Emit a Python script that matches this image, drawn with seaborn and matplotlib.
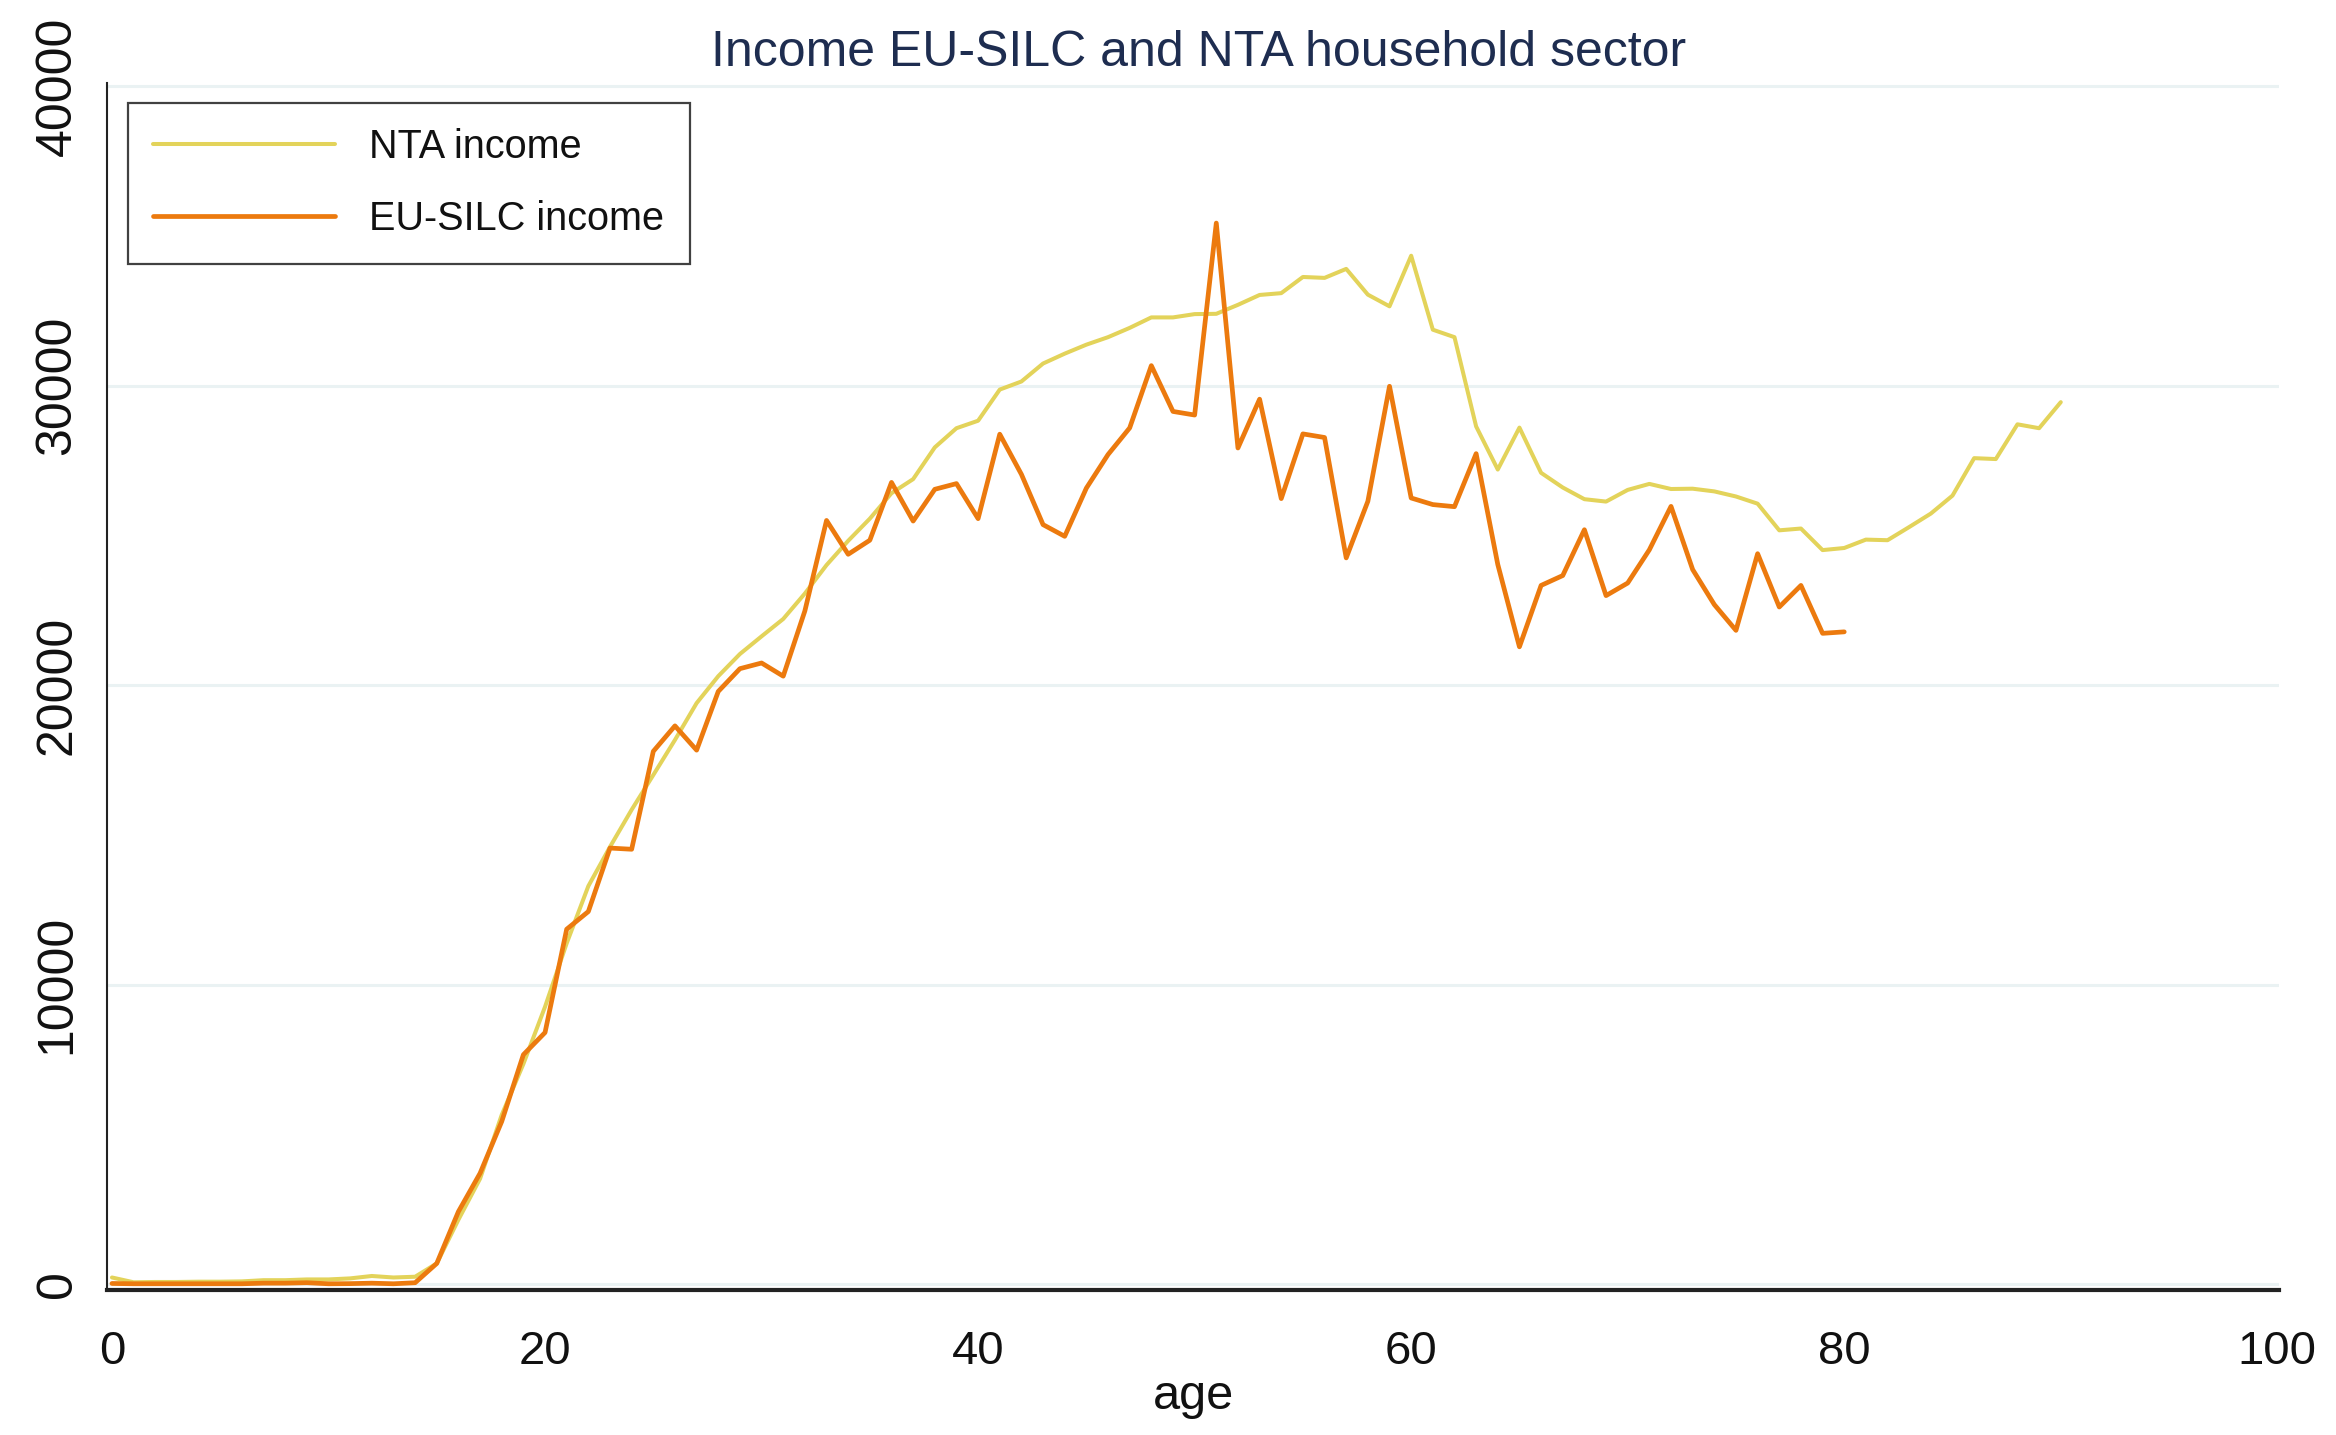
import matplotlib
matplotlib.use("Agg")
import matplotlib.pyplot as plt
import seaborn as sns
import pandas as pd
import numpy as np

# Mean income by single year of age
ages_nta = list(range(0, 91))
nta_income = [
    220, 60, 70, 70, 80, 80, 90, 130, 130, 155,
    155, 190, 270, 220, 245, 690, 2150, 3520, 5650, 7350,
    9260, 11380, 13290, 14600, 15840, 17000, 18170, 19400, 20300, 21040,
    21630, 22210, 23060, 24010, 24820, 25560, 26410, 26880, 27940, 28580,
    28830, 29870, 30140, 30740, 31070, 31370, 31620, 31930, 32280, 32280,
    32390, 32400, 32700, 33030, 33090, 33630, 33600, 33900, 33040, 32650,
    34340, 31870, 31620, 28640, 27200, 28600, 27090, 26600, 26210, 26130,
    26520, 26720, 26550, 26560, 26470, 26300, 26060, 25170, 25230, 24510,
    24580, 24860, 24840, 25280, 25730, 26330, 27580, 27550, 28710, 28580,
    29450,
]

ages_silc = list(range(0, 81))
silc_income = [
    20, 10, 10, 10, 10, 10, 10, 30, 30, 45,
    10, 15, 30, 10, 45, 690, 2420, 3700, 5430, 7660,
    8400, 11850, 12440, 14560, 14520, 17790, 18640, 17830, 19790, 20550,
    20740, 20300, 22480, 25500, 24370, 24840, 26770, 25480, 26540, 26730,
    25560, 28380, 27040, 25360, 24970, 26580, 27700, 28590, 30670, 29140,
    29020, 35430, 27920, 29550, 26230, 28390, 28270, 24250, 26140, 29980,
    26250, 26030, 25960, 27730, 24030, 21280, 23330, 23660, 25190, 22990,
    23410, 24520, 25970, 23860, 22690, 21830, 24390, 22610, 23330, 21730,
    21780,
]

series_names = ["NTA income", "EU-SILC income"]
line_colors = ["#E3D35A", "#EC7A0E"]
line_widths = [2.9, 3.4]
x_ticks = [0, 20, 40, 60, 80, 100]
y_ticks = [0, 10000, 20000, 30000, 40000]

df = pd.concat([
    pd.DataFrame({"age": ages_nta, "income": nta_income, "series": series_names[0]}),
    pd.DataFrame({"age": ages_silc, "income": silc_income, "series": series_names[1]}),
], ignore_index=True)

sns.set_theme(style="white")
plt.rcParams["font.family"] = ["Liberation Sans", "DejaVu Sans"]

fig = plt.figure(figsize=(23.36, 14.35), dpi=100)
ax = fig.add_axes([0.0458, 0.101, 0.930, 0.841])

sns.lineplot(
    data=df, x="age", y="income", hue="series",
    hue_order=series_names, palette=line_colors,
    ax=ax, legend=False, estimator=None, sort=True,
)
for ln, w in zip(ax.lines, line_widths):
    ln.set_linewidth(w)
    ln.set_solid_joinstyle("round")

ax.set_xlim(-0.23, 100.1)
ax.set_ylim(-200, 40100)
ax.set_xticks(x_ticks)
ax.set_yticks(y_ticks)
ax.set_xticklabels([str(t) for t in x_ticks], fontsize=34)
ax.set_yticklabels([str(t) for t in y_ticks], fontsize=36, rotation=90, va="center")

ax.yaxis.grid(True, color="#EAF2F3", linewidth=2.2)
ax.xaxis.grid(False)
ax.set_axisbelow(True)

for side in ["top", "right"]:
    ax.spines[side].set_visible(False)
ax.spines["left"].set_color("#222222")
ax.spines["left"].set_linewidth(1.5)
ax.spines["bottom"].set_color("#222222")
ax.spines["bottom"].set_linewidth(3.0)

ax.tick_params(axis="x", direction="out", length=14, width=1.5, color="#222222",
               pad=15, labelcolor="#111111")
ax.tick_params(axis="y", direction="out", length=9, width=1.5, color="#222222",
               pad=10, labelcolor="#111111")

ax.set_xlabel("age", fontsize=35, color="#111111", labelpad=0)
ax.set_ylabel("")

fig.suptitle("Income EU-SILC and NTA household sector", x=0.513, y=0.979,
             fontsize=36, color="#1E2D50", va="top")

handles = [plt.Line2D([], [], color=c, linewidth=w) for c, w in zip(line_colors, line_widths)]
leg = ax.legend(
    handles, series_names, loc="upper left",
    bbox_to_anchor=(0.0095, 0.984), fontsize=28.5,
    frameon=True, fancybox=False, edgecolor="#111111",
    handlelength=4.6, handletextpad=0.85, borderpad=0.65,
    labelspacing=0.85, borderaxespad=0,
)
leg.get_frame().set_linewidth(1.6)
for t in leg.get_texts():
    t.set_color("#111111")

fig.savefig("out.png", dpi=100, facecolor="white")
